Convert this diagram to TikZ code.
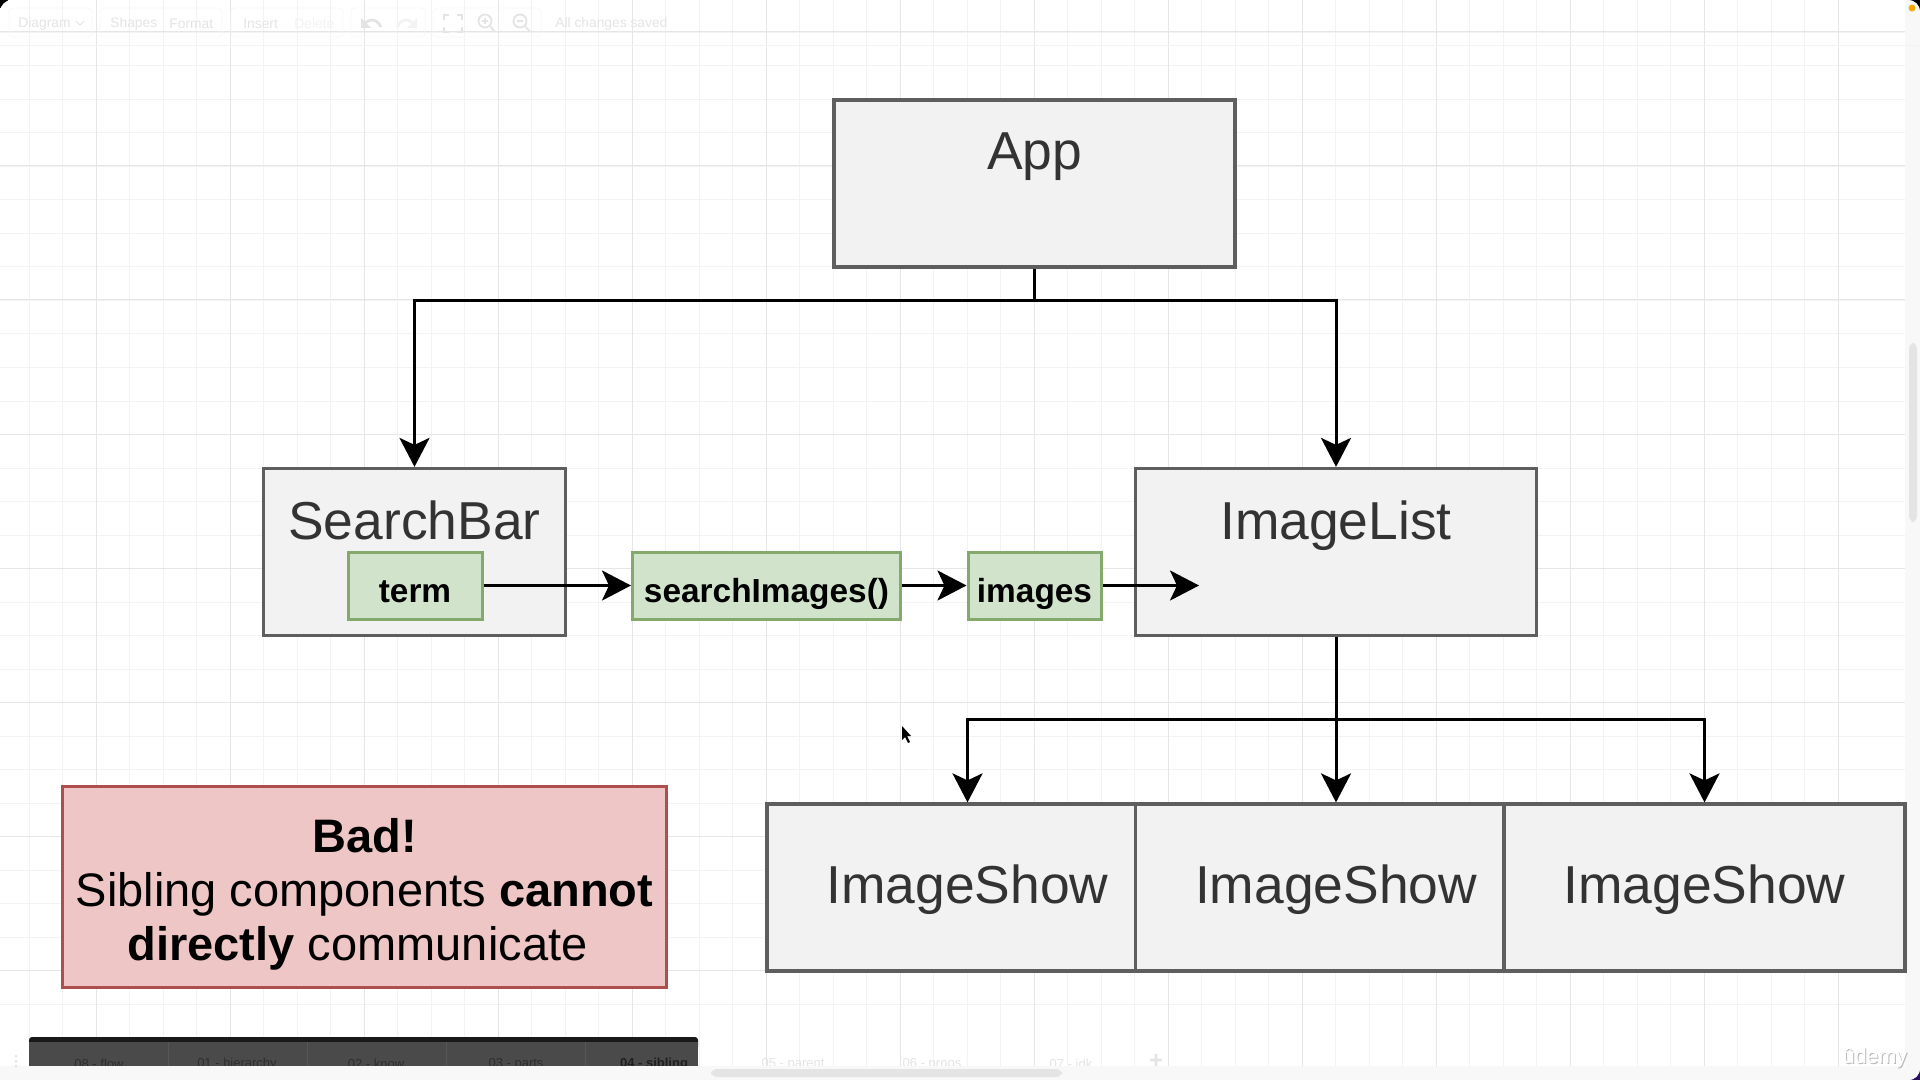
\documentclass[tikz,border=0pt]{standalone}
\usepackage{fontspec}
\setmainfont{Liberation Sans}
\usetikzlibrary{arrows.meta}
\definecolor{compfill}{HTML}{F2F2F2}
\definecolor{compline}{HTML}{5E5E5E}
\definecolor{statefill}{HTML}{D2E3CC}
\definecolor{stateline}{HTML}{85A96C}
\definecolor{warnfill}{HTML}{EFC6C6}
\definecolor{warnline}{HTML}{AD4F4C}
\definecolor{gridminor}{HTML}{F3F3F3}
\definecolor{gridmajor}{HTML}{E6E6E6}
\definecolor{chrome}{HTML}{E4E4E4}
\definecolor{panel}{HTML}{F8F8F8}
\definecolor{winedge}{HTML}{2A1060}
\begin{document}
\begin{tikzpicture}[x=0.5pt, y=-0.5pt,
    comp/.style={draw=compline, fill=compfill, line width=1.6pt, inner sep=0pt, text=black!80,
      font=\fontsize{26.7}{30}\selectfont, minimum width=200.5pt},
    state/.style={draw=stateline, fill=statefill, line width=1.5pt, inner sep=0pt, text=black,
      font=\fontsize{16.7}{19}\bfseries\selectfont, text height=25pt, text depth=8.5pt},
    warn/.style={draw=warnline, fill=warnfill, line width=1.5pt, align=center, text=black,
      font=\fontsize{23.5}{27}\selectfont, minimum width=302pt, minimum height=100.5pt},
    link/.style={draw=black, line width=1.5pt, -{Stealth[length=14.5pt, width=15pt, inset=3.5pt]}},
    wire/.style={draw=black, line width=1.5pt},
    tool/.style={font=\fontsize{6.9}{8}\selectfont, text=chrome, inner sep=0pt},
    toolbox/.style={draw=gridminor!60!white, line width=0.4pt, rounded corners=2pt},
    icon/.style={draw=chrome, line width=0.9pt},
    tab/.style={font=\fontsize{6.5}{8}\selectfont, inner sep=0pt}]
  \useasboundingbox (0,0) rectangle (1920,1080);
  \fill[black] (0,0) rectangle (1920,540);
  \fill[winedge] (0,540) rectangle (1920,1080);
  \fill[white, rounded corners=6pt] (0,0) rectangle (1920,1080);
  \fill[panel, rounded corners=6pt] (1800,0) rectangle (1920,1080);
  \fill[panel, rounded corners=6pt] (0,1040) rectangle (1920,1080);
  \fill[white] (0,8) rectangle (1905,1066);
  \fill[white] (8,0) rectangle (1905,10);
  \foreach \i in {0,...,54} {
    \draw[gridminor, line width=0.5pt] (29+33.5*\i,0) -- (29+33.5*\i,1066);
  }
  \foreach \i in {1,...,30} {
    \draw[gridminor, line width=0.5pt] (0,-1+33.5*\i) -- (1905,-1+33.5*\i);
  }
  \foreach \i in {0,...,13} {
    \draw[gridmajor, line width=0.5pt] (96.5+134*\i,0) -- (96.5+134*\i,1066);
  }
  \foreach \i in {0,...,7} {
    \draw[gridmajor, line width=0.5pt] (0,32+134*\i) -- (1905,32+134*\i);
  }
  \draw[gridminor, line width=0.5pt] (0,46) -- (1920,46);

  \draw[toolbox] (9,8) rectangle (92,37);
  \draw[toolbox] (100,8) rectangle (222,37);
  \draw[toolbox] (231,8) rectangle (343,37);
  \draw[toolbox] (351,8) rectangle (425,37);
  \draw[toolbox] (433,8) rectangle (541,37);
  \node[tool, anchor=west] (diagram) at (18,24) {Diagram};
  \node[tool, anchor=west] (shapes) at (110,24) {Shapes};
  \node[tool, anchor=west] (format) at (169,24) {Format};
  \node[tool, anchor=west] (insert) at (243,24) {Insert};
  \node[tool, anchor=west, text=gridminor] (delete) at (294,24) {Delete};
  \node[tool, anchor=west] (saved) at (555,24) {All changes saved};
  \draw[icon, line width=0.5pt] (76,21) -- (80,25) -- (84,21);
  \draw[icon, line width=1.4pt] (363,28) .. controls (366,18) and (376,17) .. (381,27);
  \fill[chrome] (361,18) -- (361,28) -- (371,28) -- cycle;
  \draw[icon, gridminor, line width=1.4pt] (415,28) .. controls (412,18) and (402,17) .. (397,27);
  \fill[gridminor] (417,18) -- (417,28) -- (407,28) -- cycle;
  \draw[icon] (444,20) -- (444,15) -- (449,15) (457,15) -- (462,15) -- (462,20)
    (462,27) -- (462,32) -- (457,32) (449,32) -- (444,32) -- (444,27);
  \draw[icon] (485,21) circle (6.5) (490,26) -- (495,32) (482,21) -- (488,21) (485,18) -- (485,24);
  \draw[icon] (520,21) circle (6.5) (525,26) -- (530,32) (517,21) -- (523,21);

  \node[comp, text height=35pt, text depth=48.5pt] (app) at (1034.5,183.5) {App};
  \node[comp, minimum width=151pt, text height=35.5pt, text depth=48pt] (bar) at (414.5,552) {SearchBar};
  \node[comp, text height=35.5pt, text depth=48pt] (list) at (1336,552) {ImageList};
  \node[comp, text height=49.5pt, text depth=34pt] (showa) at (967.5,887.5) {ImageShow};
  \node[comp, text height=49.5pt, text depth=34pt] (showb) at (1336,887.5) {ImageShow};
  \node[comp, text height=49.5pt, text depth=34pt] (showc) at (1704.5,887.5) {ImageShow};

  \node[state, minimum width=67pt] (term) at (415,585.5) {term};
  \node[state, minimum width=134pt] (search) at (766.5,585.5) {searchImages()};
  \node[state, minimum width=66.5pt] (images) at (1034.5,585.5) {images};
  \coordinate (imagesend) at (1199,585.5);

  \coordinate (appfork) at (1034.5,300.5);
  \coordinate (listfork) at (1336,719.5);
  \draw[wire] (app.south) -- (appfork);
  \draw[link] (appfork) -| (bar.north);
  \draw[link] (appfork) -| (list.north);
  \draw[link] (list.south) -- (showb.north);
  \draw[link] (listfork) -| (showa.north);
  \draw[link] (listfork) -| (showc.north);
  \draw[link] (term) -- (search);
  \draw[link] (search) -- (images);
  \draw[link] (images) -- (imagesend);

  \node[warn] (bad) at (364.5,887) {\rule{0pt}{24.5pt}\textbf{Bad!}\\Sibling components \textbf{cannot}\\\textbf{directly} communicate\hspace*{7pt}};

  \fill[black] (902,726) -- (902,740) -- (905,737) -- (908,743) -- (910,742) -- (907,736) -- (911,736) -- cycle;

  \fill[black!90, rounded corners=1.5pt] (29,1037) rectangle (698,1050);
  \fill[black!71] (29,1042) rectangle (698,1066);
  \foreach \x in {168,307,446,585} {
    \draw[black!66, line width=0.4pt] (\x,1042) -- (\x,1066);
  }
  \foreach \x/\lab/\nm in {99/08 - flow/flow, 237/01 - hierarchy/hierarchy, 376/02 - know/know, 516/03 - parts/parts} {
    \node[tab, text=black!82] (\nm) at (\x,1064) {\lab};
  }
  \node[tab, text=black!88, font=\fontsize{6.5}{8}\bfseries\selectfont] (sibling) at (654,1064) {04 - sibling};
  \foreach \x/\lab/\nm in {793/05 - parent/parent, 932/06 - props/props, 1071/07 - idk/idk} {
    \node[tab, text=chrome] (\nm) at (\x,1064) {\lab};
  }
  \node[tab, text=chrome, font=\fontsize{12}{12}\bfseries\selectfont] (plus) at (1156,1061) {+};
  \fill[panel] (0,1066) rectangle (1905,1080);
  \foreach \y in {1056,1061,1066} {
    \fill[chrome] (16,\y) circle (1.5);
  }
  \fill[chrome, rounded corners=3pt] (711,1069) rectangle (1062,1077);
  \fill[chrome, rounded corners=3pt] (1909,343) rectangle (1917,522);
  \fill[orange!70!yellow] (1912,8) circle (3.5);

  \node[font=\fontsize{10.7}{12}\selectfont, text=black!28, inner sep=0pt] (udemyback) at (1876,1059) {ûdemy};
  \node[font=\fontsize{10.7}{12}\selectfont, text=white, inner sep=0pt] (udemy) at (1875,1058) {ûdemy};
\end{tikzpicture}
\end{document}
